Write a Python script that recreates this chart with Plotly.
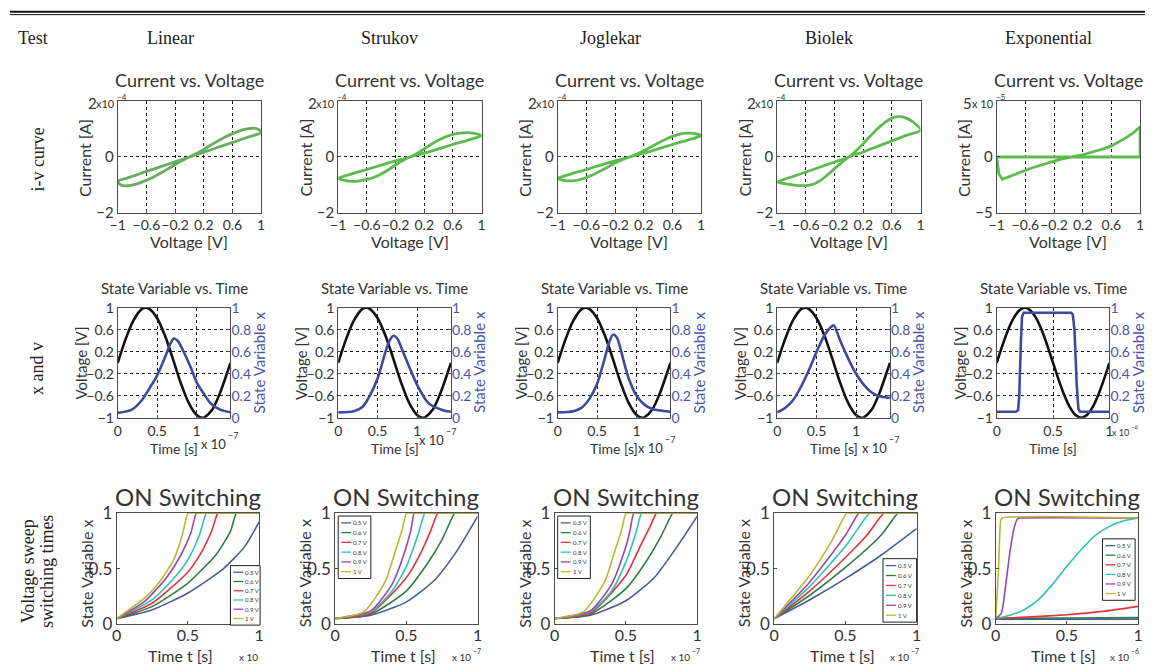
import plotly.graph_objects as go

# The page keeps an 8px body margin and the photographed page is a bit taller than the
# window, so reference pixel positions are mapped into figure coordinates below.
INSET = 8
W, H = 1150, 672
SY = 688 / 672

MODELS = ["Linear", "Strukov", "Joglekar", "Biolek", "Exponential"]
ROW_LABELS = ["i-v curve", "x and v", "Voltage sweep", "switching times"]
SWEEP_LABELS = ["0.5 V", "0.6 V", "0.7 V", "0.8 V", "0.9 V", "1 V"]

# ---------------- Row 1 : Current vs. Voltage (I in units of the axis multiplier) ----------
LIN_IV_V = [0, 0.1, 0.2, 0.3, 0.4, 0.5, 0.6, 0.7, 0.8, 0.9, 0.96, 1.0, 0.9, 0.8, 0.6, 0.4, 0.2, 0,
            -0.1, -0.2, -0.3, -0.4, -0.5, -0.6, -0.7, -0.8, -0.9, -0.96, -1.0, -0.9, -0.8, -0.6, -0.4, -0.2, 0]
LIN_IV_I = [0, 0.13, 0.27, 0.43, 0.58, 0.72, 0.84, 0.94, 1.01, 1.04, 1.0, 0.87, 0.78, 0.7, 0.52, 0.35, 0.17, 0,
            -0.13, -0.27, -0.43, -0.58, -0.72, -0.84, -0.94, -1.01, -1.04, -1.0, -0.87, -0.78, -0.7, -0.52, -0.35, -0.17, 0]
STR_IV_V = [0, 0.1, 0.2, 0.3, 0.4, 0.5, 0.6, 0.7, 0.8, 0.9, 1.0, 0.8, 0.6, 0.4, 0.2, 0,
            -0.1, -0.2, -0.3, -0.4, -0.5, -0.6, -0.7, -0.8, -0.9, -1.0, -0.8, -0.6, -0.4, -0.2, 0]
STR_IV_I = [0, 0.13, 0.29, 0.46, 0.61, 0.73, 0.81, 0.86, 0.88, 0.85, 0.77, 0.6, 0.45, 0.29, 0.14, 0,
            -0.13, -0.29, -0.46, -0.61, -0.73, -0.81, -0.86, -0.88, -0.85, -0.77, -0.6, -0.45, -0.29, -0.14, 0]
JOG_IV_V = [0, 0.1, 0.2, 0.3, 0.4, 0.5, 0.6, 0.7, 0.8, 0.9, 1.0, 0.8, 0.6, 0.4, 0.2, 0,
            -0.1, -0.2, -0.3, -0.4, -0.5, -0.6, -0.7, -0.8, -0.9, -1.0, -0.8, -0.6, -0.4, -0.2, 0]
JOG_IV_I = [0, 0.1, 0.22, 0.36, 0.5, 0.63, 0.74, 0.82, 0.86, 0.85, 0.77, 0.6, 0.45, 0.29, 0.14, 0,
            -0.1, -0.22, -0.36, -0.5, -0.63, -0.74, -0.82, -0.86, -0.85, -0.77, -0.6, -0.45, -0.29, -0.14, 0]
BIO_IV_V = [0, 0.1, 0.2, 0.3, 0.4, 0.5, 0.6, 0.7, 0.8, 0.9, 1.0, 0.8, 0.6, 0.4, 0.2, 0,
            -0.1, -0.2, -0.3, -0.4, -0.5, -0.6, -0.7, -0.8, -0.9, -1.0, -0.8, -0.6, -0.4, -0.2, 0]
BIO_IV_I = [0, 0.22, 0.48, 0.76, 1.02, 1.24, 1.4, 1.45, 1.4, 1.25, 0.97, 0.78, 0.58, 0.38, 0.18, 0,
            -0.2, -0.42, -0.65, -0.85, -0.98, -1.03, -1.03, -1.0, -0.96, -0.9, -0.72, -0.54, -0.36, -0.18, 0]
EXP_IV_V = [-1, 1, 1, 0.9, 0.8, 0.7, 0.6, 0.5, 0.4, 0.3, 0.2, 0.1, 0, -0.1, -0.2, -0.3, -0.4, -0.5,
            -0.6, -0.75, -0.85, -0.92, -0.97, -1, -1]
EXP_IV_I = [0, 0, 2.72, 2.15, 1.72, 1.33, 1.0, 0.75, 0.55, 0.37, 0.2, 0.07, -0.05, -0.2, -0.38, -0.56,
            -0.75, -0.97, -1.2, -1.55, -1.85, -2.0, -1.5, -0.3, 0]
IV_YMAX = [2, 2, 2, 2, 5]
IV_MULT_BASE = ["x10", "x10", "x10", "x10", "x 10"]
IV_MULT_EXP = ["\u22124", "\u22124", "\u22124", "\u22124", "\u22125"]

# ---------------- Row 2 : State variable vs. time ----------
SINE_T = [0, 0.1, 0.2, 0.3, 0.357, 0.4, 0.5, 0.6, 0.7, 0.8, 0.9, 1.0, 1.07, 1.1, 1.2, 1.3, 1.4, 1.43]
SINE_V = [0, 0.43, 0.77, 0.97, 1.0, 0.98, 0.81, 0.49, 0.07, -0.37, -0.73, -0.95, -1.0, -0.99, -0.85, -0.54, -0.13, 0.0]
EXP_SINE_T = [0, 0.05, 0.1, 0.15, 0.2, 0.25, 0.3, 0.35, 0.4, 0.45, 0.5, 0.55, 0.6, 0.65, 0.7, 0.75, 0.8, 0.85, 0.9, 0.95, 1.0]
EXP_SINE_V = [0, 0.31, 0.59, 0.81, 0.95, 1.0, 0.95, 0.81, 0.59, 0.31, 0, -0.31, -0.59, -0.81, -0.95, -1.0, -0.95, -0.81, -0.59, -0.31, 0]

LIN_X_T = [0, 0.18, 0.3, 0.43, 0.49, 0.6, 0.66, 0.71, 0.76, 0.85, 0.93, 1.01, 1.1, 1.18, 1.3, 1.43]
LIN_X_X = [0.045, 0.075, 0.155, 0.3, 0.37, 0.55, 0.66, 0.72, 0.70, 0.58, 0.45, 0.31, 0.21, 0.13, 0.075, 0.05]
STR_X_T = [0, 0.2, 0.31, 0.4, 0.5, 0.6, 0.65, 0.7, 0.75, 0.81, 0.92, 1.0, 1.15, 1.35, 1.43]
STR_X_X = [0.05, 0.06, 0.1, 0.2, 0.36, 0.6, 0.7, 0.745, 0.72, 0.62, 0.43, 0.3, 0.13, 0.065, 0.055]
JOG_X_T = [0, 0.2, 0.3, 0.4, 0.5, 0.6, 0.65, 0.7, 0.75, 0.8, 0.85, 0.9, 1.0, 1.1, 1.2, 1.43]
JOG_X_X = [0.05, 0.06, 0.09, 0.17, 0.31, 0.55, 0.68, 0.755, 0.73, 0.62, 0.48, 0.36, 0.2, 0.12, 0.08, 0.055]
BIO_X_T = [0, 0.1, 0.2, 0.3, 0.4, 0.5, 0.6, 0.7, 0.72, 0.8, 0.9, 1.0, 1.1, 1.2, 1.3, 1.43]
BIO_X_X = [0.05, 0.09, 0.16, 0.28, 0.43, 0.6, 0.75, 0.835, 0.84, 0.70, 0.54, 0.40, 0.30, 0.23, 0.195, 0.18]
EXP_X_T = [0, 0.17, 0.19, 0.2, 0.215, 0.225, 0.24, 0.66, 0.675, 0.69, 0.71, 0.725, 0.74, 1.0]
EXP_X_X = [0.055, 0.055, 0.07, 0.2, 0.7, 0.92, 0.955, 0.955, 0.94, 0.8, 0.3, 0.08, 0.055, 0.055]
X2_MAX = [1.43, 1.43, 1.43, 1.43, 1.0]
T2_EXP = ["\u22127", "\u22127", "\u22127", "\u22127", "\u22126"]

# ---------------- Row 3 : ON switching, one curve per voltage ----------
LIN_SW_T = [[0, 0.25, 0.5, 0.75, 0.9, 1.0],
            [0, 0.25, 0.5, 0.7, 0.8, 0.84, 0.86, 1.0],
            [0, 0.25, 0.5, 0.6, 0.67, 0.71, 0.73, 1.0],
            [0, 0.25, 0.4, 0.5, 0.58, 0.63, 0.65, 1.0],
            [0, 0.2, 0.35, 0.45, 0.52, 0.56, 0.58, 1.0],
            [0, 0.2, 0.3, 0.4, 0.46, 0.5, 0.52, 1.0]]
LIN_SW_X = [[0.05, 0.13, 0.28, 0.5, 0.7, 0.92],
            [0.05, 0.16, 0.37, 0.63, 0.84, 1, 1, 1],
            [0.05, 0.19, 0.47, 0.66, 0.85, 1, 1, 1],
            [0.05, 0.22, 0.41, 0.58, 0.8, 1, 1, 1],
            [0.05, 0.21, 0.42, 0.62, 0.82, 1, 1, 1],
            [0.05, 0.24, 0.38, 0.58, 0.8, 1, 1, 1]]
STR_SW_T = [[0, 0.25, 0.5, 0.7, 0.85, 1.0],
            [0, 0.25, 0.5, 0.65, 0.75, 0.84, 0.86, 1.0],
            [0, 0.25, 0.5, 0.6, 0.67, 0.72, 0.74, 1.0],
            [0, 0.25, 0.4, 0.5, 0.58, 0.63, 0.65, 1.0],
            [0, 0.25, 0.4, 0.48, 0.53, 0.555, 0.575, 1.0],
            [0, 0.2, 0.35, 0.42, 0.47, 0.5, 0.52, 1.0]]
STR_SW_X = [[0.05, 0.08, 0.2, 0.4, 0.65, 0.97],
            [0.05, 0.09, 0.3, 0.55, 0.76, 1, 1, 1],
            [0.05, 0.1, 0.42, 0.64, 0.84, 1, 1, 1],
            [0.05, 0.11, 0.3, 0.52, 0.8, 1, 1, 1],
            [0.05, 0.12, 0.36, 0.62, 0.84, 1, 1, 1],
            [0.05, 0.11, 0.38, 0.65, 0.85, 1, 1, 1]]
JOG_SW_T = [[0, 0.25, 0.5, 0.7, 0.85, 1.0],
            [0, 0.25, 0.5, 0.65, 0.75, 0.83, 0.85, 1.0],
            [0, 0.25, 0.5, 0.6, 0.67, 0.715, 0.735, 1.0],
            [0, 0.25, 0.4, 0.5, 0.57, 0.61, 0.63, 1.0],
            [0, 0.25, 0.4, 0.5, 0.53, 0.555, 0.575, 1.0],
            [0, 0.2, 0.35, 0.42, 0.47, 0.5, 0.52, 1.0]]
JOG_SW_X = [[0.05, 0.08, 0.21, 0.42, 0.68, 0.97],
            [0.05, 0.09, 0.32, 0.58, 0.8, 1, 1, 1],
            [0.05, 0.1, 0.44, 0.7, 0.88, 1, 1, 1],
            [0.05, 0.11, 0.3, 0.56, 0.82, 1, 1, 1],
            [0.05, 0.12, 0.36, 0.7, 0.85, 1, 1, 1],
            [0.05, 0.11, 0.38, 0.65, 0.85, 1, 1, 1]]
BIO_SW_T = [[0, 0.25, 0.5, 0.75, 1.0],
            [0, 0.25, 0.5, 0.75, 0.87, 0.89, 1.0],
            [0, 0.25, 0.5, 0.65, 0.77, 0.79, 1.0],
            [0, 0.25, 0.5, 0.67, 0.69, 1.0],
            [0, 0.25, 0.5, 0.595, 0.615, 1.0],
            [0, 0.25, 0.4, 0.51, 0.53, 1.0]]
BIO_SW_X = [[0.05, 0.22, 0.41, 0.62, 0.86],
            [0.05, 0.26, 0.51, 0.8, 1, 1, 1],
            [0.05, 0.3, 0.6, 0.8, 1, 1, 1],
            [0.05, 0.34, 0.7, 1, 1, 1],
            [0.05, 0.38, 0.8, 1, 1, 1],
            [0.05, 0.44, 0.74, 1, 1, 1]]
EXP_SW_T = [[0, 1.0],
            [0, 0.5, 1.0],
            [0, 0.25, 0.5, 0.75, 1.0],
            [0, 0.1, 0.2, 0.3, 0.4, 0.5, 0.6, 0.7, 0.8, 0.9, 1.0],
            [0, 0.04, 0.07, 0.1, 0.13, 0.155, 0.175, 1.0],
            [0, 0.02, 0.035, 0.045, 1.0]]
EXP_SW_X = [[0.045, 0.045],
            [0.05, 0.055, 0.06],
            [0.05, 0.065, 0.085, 0.115, 0.16],
            [0.05, 0.08, 0.13, 0.22, 0.36, 0.52, 0.67, 0.8, 0.88, 0.93, 0.955],
            [0.05, 0.1, 0.35, 0.65, 0.87, 0.95, 0.955, 0.955],
            [0.05, 0.5, 0.93, 0.955, 0.955]]
SW_EXP = ["", "\u22127", "\u22127", "\u22127", "\u22126"]

# ---------------- styling ----------------
SANS = "Lato, 'Open Sans', sans-serif"
SERIF = "'Liberation Serif', 'Times New Roman', serif"
TXT = "#333333"
AXC = "#4d4d4d"
GREENS = ["#67ad5e", "#5cbb4d", "#5cbb4d", "#5cbb4d", "#5cbb4d"]
BLUE = "#3d4a9e"
BLUE_TXT = "#4b55a8"
SW_COLORS = ["#4b5a9c", "#2f7d44", "#e0343c", "#2fc2b2", "#9c48a6", "#b8b935"]

# positions below are reference-picture pixels
R1_LEFT = [119, 342, 564, 786, 1008]
R2_LEFT = [119, 342, 564, 786, 1008]
R3_LEFT = [118, 339, 561, 783, 1007]
R1_W, R2_W, R3_W = 145, 114, 144
R1_Y = (99, 211)
R2_Y = (307, 418)
R3_Y = (514, 626)
LEGEND_BOX = [(233, 567, 263, 627), (342, 517, 375, 580), (564, 517, 597, 580),
              (893, 560, 927, 624), (1115, 540, 1148, 602)]
# (x where base text ends / exponent starts, base y, exponent y, base size, exponent size)
T2_MULT_POS = [(230, 444, 436, 13, 9), (450, 440, 432, 13, 9), (672, 448, 440, 13, 9),
               (898, 448, 440, 13, 9), (1143, 433, 427, 9, 6)]
SW_MULT_POS = [(262, 659, 653, 10, 7), (477, 659, 653, 10, 7), (699, 659, 653, 10, 7),
               (920, 659, 653, 10, 7), (1143, 659, 653, 10, 7)]


def px(x):
    return (x - INSET) / W


def py(y):
    return 1 - (y * SY - INSET) / H


def dom_x(left, w):
    return [px(left), px(left + w)]


def dom_y(top, bottom):
    return [py(bottom), py(top)]


layout = dict(width=W, height=H, margin=dict(l=0, r=0, t=0, b=0, pad=0), autosize=False,
              paper_bgcolor="white", plot_bgcolor="white", showlegend=False,
              annotations=[], shapes=[])


def ann(text, x, y, size, font=SANS, color=TXT, angle=0, xanchor="center", yanchor="middle"):
    if not text:
        return
    layout["annotations"].append(dict(text=text, x=px(x), y=py(y), xref="paper", yref="paper",
                                      showarrow=False, textangle=angle, xanchor=xanchor,
                                      yanchor=yanchor, borderpad=0,
                                      font=dict(family=font, size=size, color=color)))


def base_axis(size):
    return dict(showline=True, mirror=True, linecolor=AXC, linewidth=1, ticks="inside",
                ticklen=3, tickcolor=AXC, tickfont=dict(family=SANS, size=size, color=TXT),
                tickangle=0, zeroline=False, showgrid=False, fixedrange=True)


GRID = dict(showgrid=True, griddash="dot", gridcolor="#1a1a1a", gridwidth=1)

fig = go.Figure()

# ---- headers
layout["shapes"].append(dict(type="line", xref="paper", yref="paper", x0=px(10), x1=1, y0=py(8.5), y1=py(8.5),
                             line=dict(color="#111", width=2)))
layout["shapes"].append(dict(type="line", xref="paper", yref="paper", x0=px(10), x1=1, y0=py(11.5), y1=py(11.5),
                             line=dict(color="#111", width=1)))
ann("Test", 33, 35, 18, font=SERIF, color="#222")
HEADER_X = [172, 394, 617, 838, 1060]
for name, hx in zip(MODELS, HEADER_X):
    ann(name, hx, 35, 18, font=SERIF, color="#222")
ann(ROW_LABELS[0], 38, 158, 18, font=SERIF, color="#222", angle=-90)
ann(ROW_LABELS[1], 38, 368, 18, font=SERIF, color="#222", angle=-90)
ann(ROW_LABELS[2], 28, 573, 18, font=SERIF, color="#222", angle=-90)
ann(ROW_LABELS[3], 47, 573, 18, font=SERIF, color="#222", angle=-90)

# ---- Row 1
IV_DATA = [(LIN_IV_V, LIN_IV_I), (STR_IV_V, STR_IV_I), (JOG_IV_V, JOG_IV_I),
           (BIO_IV_V, BIO_IV_I), (EXP_IV_V, EXP_IV_I)]
X1_TICKS = [-1, -0.6, -0.2, 0.2, 0.6, 1]
X1_TEXT = ["\u22121", "\u22120.6", "\u22120.2", "0.2", "0.6", "1"]
for i, (vv, ii) in enumerate(IV_DATA):
    n = 1 + i
    L = R1_LEFT[i]
    ym = IV_YMAX[i]
    xa = base_axis(14)
    xa.update(GRID)
    xa.update(domain=dom_x(L, R1_W), anchor=f"y{n}", range=[-1, 1], tickvals=X1_TICKS, ticktext=X1_TEXT)
    ya = base_axis(15)
    ya.update(GRID)
    ya.update(domain=dom_y(*R1_Y), anchor=f"x{n}", range=[-ym, ym], tickvals=[-ym, 0],
              ticktext=[f"\u2212{ym}", "0"])
    layout[f"xaxis{n}"] = xa
    layout[f"yaxis{n}"] = ya
    shape = "linear" if i == 4 else "spline"
    fig.add_trace(go.Scatter(x=vv, y=ii, mode="lines", xaxis=f"x{n}", yaxis=f"y{n}", hoverinfo="skip",
                             line=dict(color=GREENS[i], width=2.8, shape=shape, smoothing=0.8)))
    cx = L + R1_W / 2
    ann("Current vs. Voltage", cx, 77, 18)
    ann("Voltage [V]", cx, 240, 16)
    ann("Current [A]", L - 33, 156, 16, angle=-90)
    # axis multiplier  "2x10^-4"
    base_w = 18 if i < 4 else 22
    ann(IV_MULT_EXP[i], L - 2, 95, 8, xanchor="left")
    ann(IV_MULT_BASE[i], L - 2, 101, 11, xanchor="right")
    ann(str(ym), L - 2 - base_w, 101, 15, xanchor="right")

# ---- Row 2
SINE_DATA = [(SINE_T, SINE_V)] * 4 + [(EXP_SINE_T, EXP_SINE_V)]
STATE_DATA = [(LIN_X_T, LIN_X_X), (STR_X_T, STR_X_X), (JOG_X_T, JOG_X_X),
              (BIO_X_T, BIO_X_X), (EXP_X_T, EXP_X_X)]
Y2_TICKS = [-1, -0.6, -0.2, 0.2, 0.6, 1]
Y2_TEXT = ["\u22121", "\u22120.6", "\u22120.2", "0.2", "0.6", "1"]
R_TICKS = [0, 0.2, 0.4, 0.6, 0.8, 1]
R_TEXT = ["0", "0.2", "0.4", "0.6", "0.8", "1"]
for i in range(5):
    n = 6 + i
    m = 16 + i
    L = R2_LEFT[i]
    xa = base_axis(14)
    xa.update(GRID)
    xa.update(domain=dom_x(L, R2_W), anchor=f"y{n}", range=[0, X2_MAX[i]], tickvals=[0, 0.5, 1],
              ticktext=["0", "0.5", "1"])
    ya = base_axis(14)
    ya.update(GRID)
    ya.update(domain=dom_y(*R2_Y), anchor=f"x{n}", range=[-1, 1], tickvals=Y2_TICKS, ticktext=Y2_TEXT)
    yr = dict(overlaying=f"y{n}", side="right", anchor=f"x{n}", range=[0, 1], tickvals=R_TICKS,
              ticktext=R_TEXT, showline=False, showgrid=False, zeroline=False, ticks="inside",
              ticklen=3, tickcolor=AXC, fixedrange=True,
              tickfont=dict(family=SANS, size=14, color=BLUE_TXT))
    layout[f"xaxis{n}"] = xa
    layout[f"yaxis{n}"] = ya
    layout[f"yaxis{m}"] = yr
    st, sv = SINE_DATA[i]
    fig.add_trace(go.Scatter(x=st, y=sv, mode="lines", xaxis=f"x{n}", yaxis=f"y{n}", hoverinfo="skip",
                             line=dict(color="#111111", width=2.6, shape="spline", smoothing=0.8)))
    xt, xx = STATE_DATA[i]
    shape = "linear" if i == 4 else "spline"
    fig.add_trace(go.Scatter(x=xt, y=xx, mode="lines", xaxis=f"x{n}", yaxis=f"y{m}", hoverinfo="skip",
                             line=dict(color=BLUE, width=2.6, shape=shape, smoothing=0.8)))
    cx = L + R2_W / 2
    ann("State Variable vs. Time", cx, 287, 15)
    ann("Time [s]", cx, 449, 14)
    ann("Voltage [V]", L - 37, 363, 15, angle=-90)
    ann("State Variable x", L + R2_W + 29, 362, 15, color=BLUE_TXT, angle=-90)
    mx, by, ey, bs, es = T2_MULT_POS[i]
    ann("x 10", mx, by, bs, xanchor="right")
    ann(T2_EXP[i], mx, ey, es, xanchor="left")

# ---- Row 3
SW_DATA = [(LIN_SW_T, LIN_SW_X), (STR_SW_T, STR_SW_X), (JOG_SW_T, JOG_SW_X),
           (BIO_SW_T, BIO_SW_X), (EXP_SW_T, EXP_SW_X)]
for i, (tt, xx) in enumerate(SW_DATA):
    n = 11 + i
    L = R3_LEFT[i]
    xa = base_axis(16)
    xa.update(domain=dom_x(L, R3_W), anchor=f"y{n}", range=[0, 1], tickvals=[0, 0.5, 1],
              ticktext=["0", "0.5", "1"], ticklabelstandoff=-3)
    ya = base_axis(17)
    ya.update(domain=dom_y(*R3_Y), anchor=f"x{n}", range=[0, 1], tickvals=[0, 0.5, 1],
              ticktext=["0", "0.5", "1"])
    layout[f"xaxis{n}"] = xa
    layout[f"yaxis{n}"] = ya
    for k in range(6):
        fig.add_trace(go.Scatter(x=tt[k], y=xx[k], mode="lines", xaxis=f"x{n}", yaxis=f"y{n}",
                                 hoverinfo="skip",
                                 line=dict(color=SW_COLORS[k], width=1.6, shape="spline", smoothing=0.6)))
    cx = L + R3_W / 2
    ann("ON Switching", cx, 497, 24)
    ann("Time t [s]", cx - (8 if i == 0 else 3), 657.5, 16)
    ann("State Variable x", L - 31, 575, 16, angle=-90)
    mx, by, ey, bs, es = SW_MULT_POS[i]
    ann("x 10", mx, by, bs, xanchor="right")
    ann(SW_EXP[i], mx, ey, es, xanchor="left")
    # legend box
    x0, y0, x1, y1 = LEGEND_BOX[i]
    layout["shapes"].append(dict(type="rect", xref="paper", yref="paper", x0=px(x0), x1=px(x1),
                                 y0=py(y1), y1=py(y0), fillcolor="white", layer="above",
                                 line=dict(color="#222", width=1)))
    step = (y1 - y0 - 4) / 6
    for k in range(6):
        yy = y0 + 2 + step * (k + 0.5)
        layout["shapes"].append(dict(type="line", xref="paper", yref="paper", x0=px(x0 + 3), x1=px(x0 + 13),
                                     y0=py(yy), y1=py(yy), layer="above",
                                     line=dict(color=SW_COLORS[k], width=1.3)))
        ann(SWEEP_LABELS[k], x0 + 14, yy, 6, xanchor="left")

fig.update_layout(**layout)
fig.write_html("out.html")
